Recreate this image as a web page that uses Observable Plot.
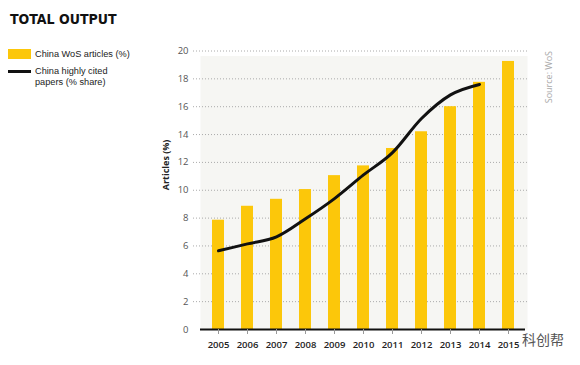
<!DOCTYPE html>
<html>
<head>
<meta charset="utf-8">
<script src="https://cdn.jsdelivr.net/npm/d3@7"></script>
<script src="https://cdn.jsdelivr.net/npm/@observablehq/plot@0.6"></script>
<style>
  html, body { margin: 0; padding: 0; background: #fff; }
  #wrap { position: relative; width: 580px; height: 365px; overflow: hidden; font-family: "Open Sans", sans-serif; }
  #title { position: absolute; left: 10px; top: 11px; font: bold 14px "DejaVu Sans Condensed", "DejaVu Sans", sans-serif; font-stretch: condensed; color: #111; letter-spacing: 0px; }
  .leg { position: absolute; left: 8px; font: 9.2px "Liberation Sans", Arial, sans-serif; color: #222; line-height: 10.6px; }
  .sw { position: absolute; left: 0; width: 23px; }
  .lt { position: absolute; left: 27px; white-space: nowrap; }
  #wm { position: absolute; left: 522px; top: 329px; font: 14px "Noto Sans CJK SC", sans-serif; color: #555; }
  #chart { position: absolute; left: 0; top: 0; }
</style>
</head>
<body>
<div id="wrap">
  <div id="chart"></div>
  <div id="title">TOTAL OUTPUT</div>
  <div class="leg" style="top:49px;"><div class="sw" style="top:0;height:10px;background:#fcc70a;"></div><div class="lt" style="top:0px;">China WoS articles (%)</div></div>
  <div class="leg" style="top:66px;"><div class="sw" style="top:4px;height:3px;background:#111;"></div><div class="lt" style="top:0px;">China highly cited</div><div class="lt" style="top:11px;">papers (% share)</div></div>
  <div id="wm">科创帮</div>
</div>
<script>
const years = ["2005","2006","2007","2008","2009","2010","2011","2012","2013","2014","2015"];
const articles = [7.85, 8.85, 9.35, 10.05, 11.05, 11.75, 13.0, 14.2, 16.0, 17.75, 19.25];
const citedYears = ["2005","2006","2007","2008","2009","2010","2011","2012","2013","2014"];
const cited = [5.65, 6.15, 6.65, 7.95, 9.4, 11.1, 12.7, 15.15, 16.85, 17.6];
const yTicks = [0, 2, 4, 6, 8, 10, 12, 14, 16, 18, 20];

const bars = years.map((y, i) => ({year: y, value: articles[i]}));
const line = citedYears.map((y, i) => ({year: y, value: cited[i]}));

const chart = Plot.plot({
  width: 580,
  height: 365,
  marginLeft: 200,
  marginRight: 53,
  marginTop: 50.5,
  marginBottom: 36,
  style: {fontFamily: "Open Sans, sans-serif", background: "transparent", overflow: "visible"},
  x: {type: "band", domain: years, paddingInner: 0.58, paddingOuter: 0.29, insetLeft: 3.5, insetRight: 4, axis: null},
  y: {domain: [0, 20], axis: null},
  marks: [
    Plot.frame({fill: "#f6f6f3", stroke: null, insetTop: 5}),
    Plot.ruleY(yTicks.filter(d => d > 0), {stroke: "#aaa", strokeDasharray: "1,2", strokeWidth: 1, insetLeft: -7}),
    Plot.axisY(yTicks, {tickSize: 0, tickPadding: 12, fontSize: 9.5, fill: "#555", label: null}),
    Plot.barY(bars, {x: "year", y: "value", fill: "#fcc70a"}),
    Plot.ruleY([0], {stroke: "#111", strokeWidth: 2, insetRight: 2}),
    Plot.axisX(years, {tickSize: 5, tickPadding: 7, stroke: "#999", fontSize: 9.5, fontWeight: 600, fill: "#222", label: null}),
    Plot.line(line, {x: "year", y: "value", stroke: "#111", strokeWidth: 3, curve: "monotone-x", strokeLinecap: "round"}),
    Plot.text(["Articles (%)"], {frameAnchor: "left", dx: -34, rotate: -90, fontSize: 9, fontWeight: "bold", fill: "#222"}),
    Plot.text(["Source: WoS"], {frameAnchor: "top-right", dx: 18, rotate: -90, textAnchor: "end", fontSize: 9, fill: "#aaa"})
  ]
});
document.getElementById("chart").appendChild(chart);
</script>
</body>
</html>
